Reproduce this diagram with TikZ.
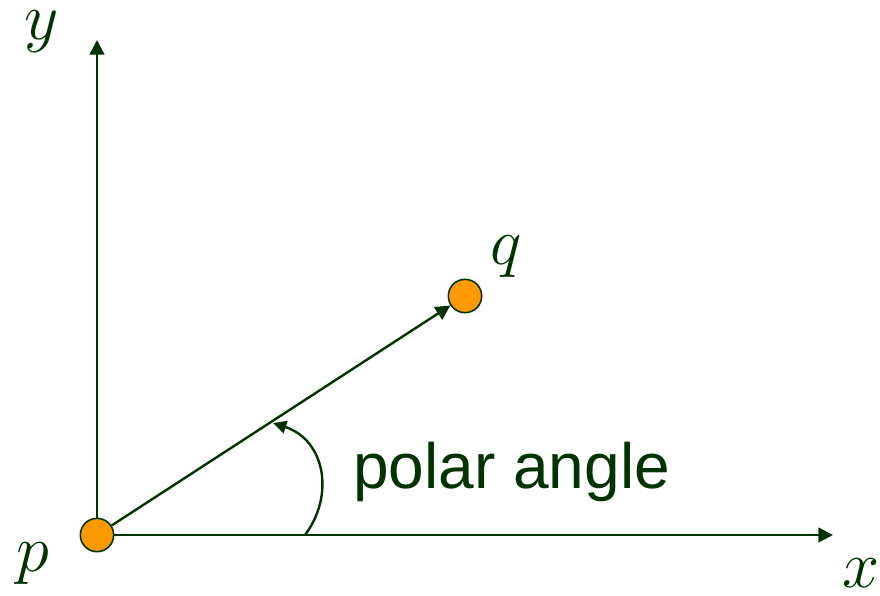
\documentclass[tikz,border=0pt]{standalone}
\usepackage{fix-cm}
\usepackage{fontspec}
\usepackage{xcolor}
\usepackage{tikz}
\usetikzlibrary{arrows.meta,positioning}
\newfontfamily\anglefont{Liberation Sans}
\definecolor{axisgreen}{RGB}{0,51,0}
\definecolor{pointorange}{RGB}{255,153,0}

\begin{document}
\begin{tikzpicture}[x=0.75pt, y=-0.75pt,
    point/.style={circle, draw=axisgreen, fill=pointorange, line width=1.2pt, minimum size=25pt, inner sep=0pt},
    axislabel/.style={text=axisgreen, inner sep=0pt, font=\fontsize{50}{50}\selectfont},
    arrow/.style={-{Triangle[length=11pt, width=11pt]}, line width=1.8pt, draw=axisgreen},
    smallarrow/.style={-{Triangle[length=10pt, width=9.5pt]}, line width=1.8pt, draw=axisgreen}
]
    \useasboundingbox (0,0) rectangle (880,595);
    \coordinate (ytip) at (97,40);
    \coordinate (xtip) at (833,535);
    \coordinate (arcstart) at (305,535);
    \coordinate (arcend) at (273,423);

    \draw [arrow] (97,535) -- (ytip);
    \draw [arrow] (97,535) -- (xtip);
    \node (p) [point] at (97,535) {};
    \node (q) [point] at (465,296) {};

    \draw [arrow] (p) -- (q);
    \draw [smallarrow] (arcstart) .. controls (335,495) and (325,440) .. (arcend);

    \node (ylabel) [axislabel] at (42,32) {$y$};
    \node (xlabel) [axislabel] at (861,573) {$x$};
    \node (plabel) [axislabel] at (33,564) {$p$};
    \node (qlabel) [axislabel] at (506,257) {$q$};
    \node (anglelabel) [anchor=base west, inner sep=0pt, text=axisgreen, font=\anglefont\fontsize{48}{48}\selectfont] at (353,488) {polar angle};
\end{tikzpicture}
\end{document}
